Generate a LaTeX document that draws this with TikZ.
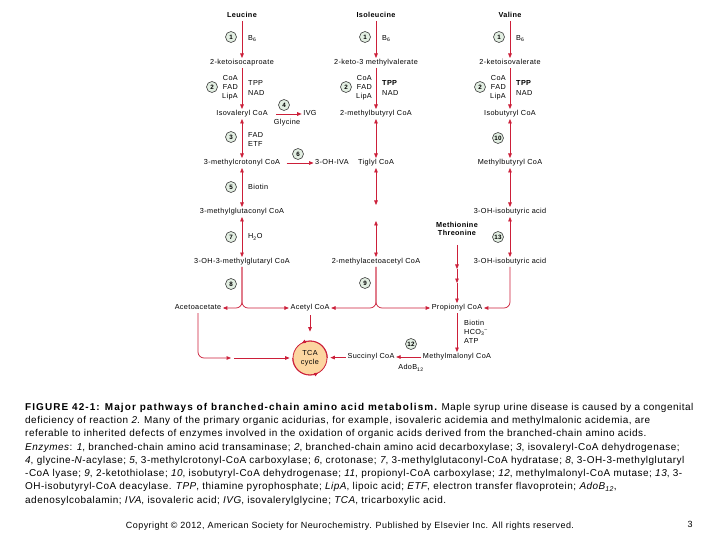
\documentclass[tikz,border=0pt]{standalone}
\usepackage{fontspec}
\setmainfont[LetterSpace=5]{Liberation Sans}
\usepackage{xcolor}
\usepackage{tikz}
\usetikzlibrary{arrows.meta}

\definecolor{pathred}{RGB}{204,31,57}
\definecolor{tcafill}{RGB}{252,214,160}
\definecolor{enzfill}{RGB}{226,238,226}

\tikzset{
  metab/.style={inner sep=1.5bp,text height=5.2bp,text depth=1.4bp},
  aminoacid/.style={metab,font=\fontsize{7.3}{8.5}\selectfont\bfseries},
  enz/.style={circle,draw=black!75,fill=enzfill,line width=0.6bp,inner sep=0pt,
    minimum size=11bp,font=\fontsize{6.3}{7}\selectfont\bfseries},
  cof/.style={inner sep=0pt,align=left,anchor=west,font=\fontsize{7.3}{9.3}\selectfont},
  rxn/.style={draw=pathred,line width=0.7bp,-{Triangle[length=4.5bp,width=3.6bp]}},
  rev/.style={rxn,{Triangle[length=4.5bp,width=3.6bp]}-{Triangle[length=4.5bp,width=3.6bp]}},
}

\begin{document}
\begin{tikzpicture}[x=1bp,y=-1bp,font=\fontsize{7.3}{8.5}\selectfont]
\fill[white] (0,0) rectangle (720,540);
\useasboundingbox (0,0) rectangle (720,540);

% Amino acids and the first two steps
\foreach \x/\n/\acid/\keto/\acyl/\tpp in {242/leu/Leucine/2-ketoisocaproate/Isovaleryl CoA/TPP,
    376/ile/Isoleucine/2-keto-3 methylvalerate/2-methylbutyryl CoA/\textbf{TPP},
    510/val/Valine/2-ketoisovalerate/Isobutyryl CoA/\textbf{TPP}} {
  \node[aminoacid] (\n) at (\x,16) {\acid};
  \node[metab] (\n-keto) at (\x,63) {\keto};
  \node[metab] (\n-acyl) at (\x,114) {\acyl};
  \draw[rxn] (\n) -- (\n-keto);
  \draw[rxn] (\n-keto) -- (\n-acyl);
  \node[enz] (\n-e1) at (\x-11,37) {1};
  \node[cof] (\n-b6) at (\x+6,38.5) {B\textsubscript{6}};
  \node[enz] (\n-e2) at (\x-30,87) {2};
  \node[cof,anchor=east,align=right] (\n-coa) at (\x-4,87.5) {CoA\\FAD\\LipA};
  \node[cof] (\n-tpp) at (\x+6,88) {\tpp\\NAD};
}

% Leucine
\node[metab] (mccoa) at (242,163) {3-methylcrotonyl CoA};
\node[metab] (mgcoa) at (242,212) {3-methylglutaconyl CoA};
\node[metab] (hmgcoa) at (242,262) {3-OH-3-methylglutaryl CoA};
\node[metab] (ivg) at (310,114) {IVG};
\node[metab] (gly) at (287,123) {Glycine};
\node[metab] (ohiva) at (332,163) {3-OH-IVA};
\draw[rxn,shorten <=7bp] (leu-acyl) -- (ivg);
\draw[rxn,shorten <=5bp] (mccoa) -- (ohiva);
\draw[rev] (leu-acyl) -- (mccoa);
\draw[rev] (mccoa) -- (mgcoa);
\draw[rev] (mgcoa) -- (hmgcoa);
\node[enz] (e3) at (231,137) {3};
\node[cof] (fad) at (248,139.5) {FAD\\ETF};
\node[enz] (e4) at (284,105) {4};
\node[enz] (e5) at (231,187) {5};
\node[cof] (biotin) at (248,187) {Biotin};
\node[enz] (e6) at (298,154) {6};
\node[enz] (e7) at (231,237) {7};
\node[cof] (water) at (248,237) {H\textsubscript{2}O};
\node[enz] (e8) at (231,284) {8};

% Isoleucine
\node[metab] (tig) at (376,163) {Tiglyl CoA};
\coordinate (gaptop) at (376,205);
\coordinate (gapbot) at (376,221);
\node[metab] (mac) at (376,262) {2-methylacetoacetyl CoA};
\draw[rev] (ile-acyl) -- (tig);
\draw[rev] (tig) -- (gaptop);
\draw[rev] (gapbot) -- (mac);
\node[enz] (e9) at (365,283) {9};

% Valine
\node[metab] (mbcoa) at (510,163) {Methylbutyryl CoA};
\node[metab] (ohiba) at (510,212) {3-OH-isobutyric acid};
\node[metab] (ohibb) at (510,262) {3-OH-isobutyric acid};
\draw[rev] (val-acyl) -- (mbcoa);
\draw[rev] (mbcoa) -- (ohiba);
\draw[rev] (ohiba) -- (ohibb);
\node[enz] (e10) at (498,138) {10};
\node[enz] (e13) at (498,237) {13};

% End products
\node[metab] (acac) at (198,308) {Acetoacetate};
\node[metab] (accoa) at (310,308) {Acetyl CoA};
\node[metab] (prop) at (457,308) {Propionyl CoA};
\node[aminoacid,align=center] (metthr) at (457,234) {Methionine\\Threonine};
\node[metab] (mm) at (457,357) {Methylmalonyl CoA};
\node[metab] (succ) at (371,357) {Succinyl CoA};
\node[circle,draw=pathred,line width=0.8bp,fill=tcafill,minimum size=34bp,inner sep=0pt,
  align=center,font=\fontsize{7.3}{8.5}\selectfont] (tca) at (310,358) {TCA\\cycle};
\draw[pathred,line width=0.8bp,-{Triangle[length=4bp,width=3.4bp]}]
  (tca.180) arc[start angle=180,end angle=300,radius=17bp];
\draw[pathred,line width=0.8bp,-{Triangle[length=4bp,width=3.4bp]}]
  (tca.0) arc[start angle=0,end angle=120,radius=17bp];

\draw[rxn,rounded corners=6bp] (hmgcoa.south) -- (hmgcoa.south |- acac.east) -- (acac.east);
\draw[rxn,rounded corners=6bp] (hmgcoa.south) -- (hmgcoa.south |- accoa.west) -- (accoa.west);
\draw[rxn,rounded corners=6bp] (mac.south) -- (mac.south |- accoa.east) -- (accoa.east);
\draw[rxn,rounded corners=6bp] (mac.south) -- (mac.south |- prop.west) -- (prop.west);
\draw[rxn,rounded corners=6bp] (ohibb.south) -- (ohibb.south |- prop.east) -- (prop.east);

\coordinate (mt1) at (457,269);
\coordinate (mt2) at (457,283);
\draw[rxn,shorten <=6bp] (metthr) -- (mt1);
\draw[rxn] (mt1) -- (mt2);
\draw[rxn] (mt2) -- (prop);

\coordinate (acmid) at (231,358);
\coordinate (acmid2) at (234,358);
\draw[rxn,rounded corners=6bp] (acac.south) -- (acac.south |- acmid) -- (acmid);
\draw[rxn,shorten >=3bp] (acmid2) -- (tca.west);
\draw[rxn,shorten <=2bp,shorten >=9bp] (accoa) -- (tca);
\draw[rxn,shorten >=3bp] (succ) -- (tca);
\draw[rxn] (mm) -- (succ);
\draw[rxn] (prop) -- (mm);
\node[cof,font=\fontsize{7.3}{8.7}\selectfont] (pcof) at (464,332)
  {Biotin\\HCO\textsubscript{3}\textsuperscript{--}\\ATP};
\node[enz] (e12) at (411,344) {12};
\node[metab] (adob) at (411,368) {AdoB\textsubscript{12}};

% Caption
\node[anchor=north west,inner sep=0pt,align=left,font=\fontsize{10}{13.3}\selectfont] (caption) at (25,403)
{{\bfseries\addfontfeature{LetterSpace=11}FIGURE 42-1: Major pathways of branched-chain amino acid metabolism.} Maple syrup urine disease is caused by a congenital\\
deficiency of reaction \textit{2}. Many of the primary organic acidurias, for example, isovaleric acidemia and methylmalonic acidemia, are\\
referable to inherited defects of enzymes involved in the oxidation of organic acids derived from the branched-chain amino acids.\\
\textit{Enzymes}: \textit{1}, branched-chain amino acid transaminase; \textit{2}, branched-chain amino acid decarboxylase; \textit{3}, isovaleryl-CoA dehydrogenase;\\
\textit{4}, glycine-\textit{N}-acylase; \textit{5}, 3-methylcrotonyl-CoA carboxylase; \textit{6}, crotonase; \textit{7}, 3-methylglutaconyl-CoA hydratase; \textit{8}, 3-OH-3-methylglutaryl\\
-CoA lyase; \textit{9}, 2-ketothiolase; \textit{10}, isobutyryl-CoA dehydrogenase; \textit{11}, propionyl-CoA carboxylase; \textit{12}, methylmalonyl-CoA mutase; \textit{13}, 3-\\
OH-isobutyryl-CoA deacylase. \textit{TPP}, thiamine pyrophosphate; \textit{LipA}, lipoic acid; \textit{ETF}, electron transfer flavoprotein; \textit{AdoB\textsubscript{12}},\\
adenosylcobalamin; \textit{IVA}, isovaleric acid; \textit{IVG}, isovalerylglycine; \textit{TCA}, tricarboxylic acid.};
\node[font=\fontsize{9}{10}\selectfont] (copyright) at (350,526)
  {Copyright © 2012, American Society for Neurochemistry. Published by Elsevier Inc. All rights reserved.};
\node[font=\fontsize{9}{10}\selectfont] (pagenum) at (690,524) {3};
\end{tikzpicture}
\end{document}
